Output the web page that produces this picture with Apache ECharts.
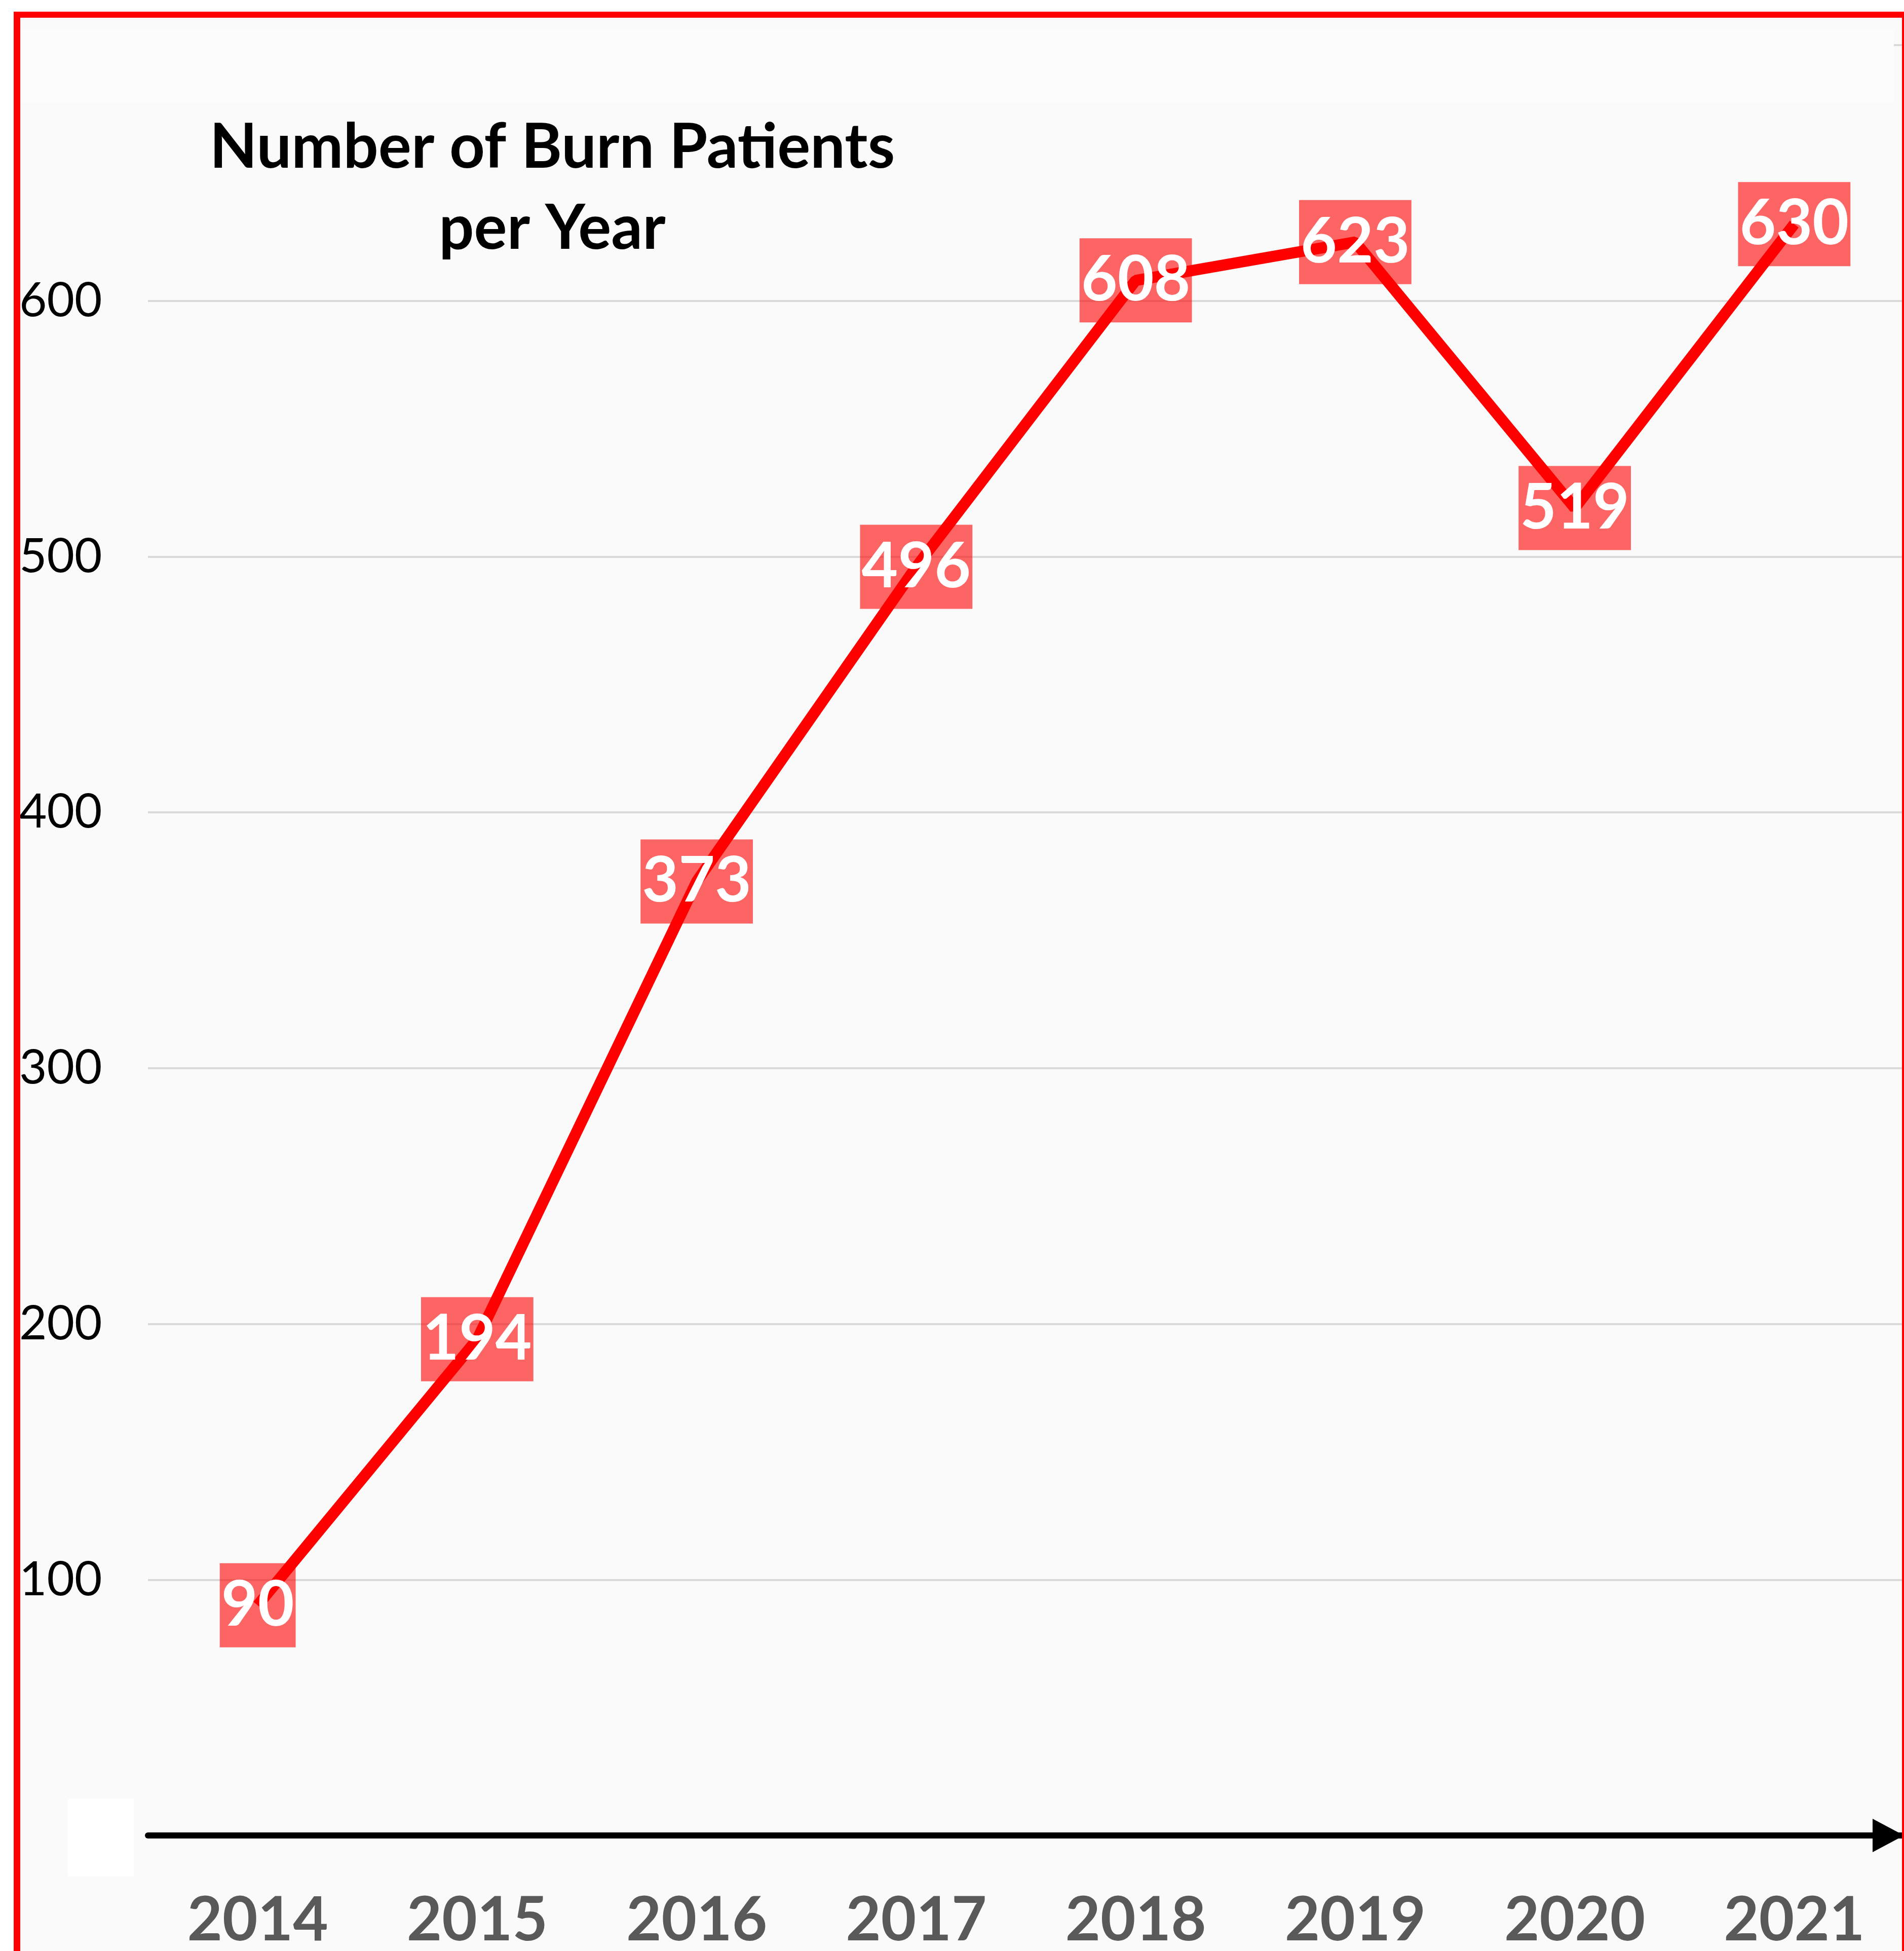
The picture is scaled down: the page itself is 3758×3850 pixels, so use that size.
<!DOCTYPE html>
<html>
<head>
    <meta charset="utf-8">
    <title>Number of Burn Patients per Year</title>
    <script src="https://cdn.jsdelivr.net/npm/echarts@6/dist/echarts.min.js"></script>
    <style>
        html, body { margin: 0; padding: 0; background: #fff; }
        #chart1 { width: 3758px; height: 3850px; }
    </style>
</head>
<body>
<div id="chart1"></div>
<script type="text/javascript">
    // data
    var years = ['2014', '2015', '2016', '2017', '2018', '2019', '2020', '2021'];
    var patients = [90, 194, 373, 496, 608, 623, 519, 630];
    var yTicks = [100, 200, 300, 400, 500, 600];

    var myChart = echarts.init(document.getElementById('chart1'));

    var option = {
        animation: false,
        backgroundColor: '#fafafa',
        grid: { left: 292, right: 0, top: 89, bottom: 228 },
        xAxis: {
            type: 'category',
            data: years,
            axisTick: { show: false },
            axisLine: {
                show: true,
                symbol: ['none', 'triangle'],
                symbolSize: [66, 62],
                symbolOffset: [0, -31],
                lineStyle: { color: '#000', width: 12 }
            },
            axisLabel: {
                color: '#595959',
                fontFamily: 'Lato',
                fontWeight: 'bold',
                fontSize: 120,
                margin: 108
            }
        },
        yAxis: {
            type: 'value',
            min: 0,
            max: 700,
            interval: 100,
            axisLine: { show: false },
            axisTick: { show: false },
            splitLine: { lineStyle: { color: '#d9d9d9', width: 4 } },
            axisLabel: {
                color: '#000',
                fontFamily: 'Lato',
                fontSize: 94,
                align: 'left',
                margin: 254,
                formatter: function (v) {
                    return yTicks.indexOf(v) >= 0 ? String(v) : '';
                }
            }
        },
        series: [{
            name: 'Burn patients',
            type: 'line',
            data: patients,
            symbol: 'circle',
            symbolSize: 1,
            itemStyle: { color: '#ff0000' },
            lineStyle: { color: '#ff0000', width: 22 },
            label: {
                show: true,
                position: 'inside',
                color: '#fff',
                fontFamily: 'Lato',
                fontWeight: 'bold',
                fontSize: 124,
                lineHeight: 122,
                backgroundColor: 'rgba(255,0,0,0.6)',
                padding: [22, 3]
            }
        }],
        graphic: [
            // white margins outside the red frame
            { type: 'rect', z: 100, shape: { x: 0, y: 0, width: 3758, height: 23 }, style: { fill: '#fff' } },
            { type: 'rect', z: 100, shape: { x: 0, y: 0, width: 27, height: 3850 }, style: { fill: '#fff' } },
            // slightly lighter band over the top gridline
            { type: 'rect', z: 50, shape: { x: 40, y: 58, width: 3698, height: 145 }, style: { fill: '#fcfcfc' } },
            // white patch over the 0 corner
            { type: 'rect', z: 50, shape: { x: 134, y: 3550, width: 130, height: 153 }, style: { fill: '#fff' } },
            // red frame
            { type: 'rect', z: 101, shape: { x: 27, y: 23, width: 3731, height: 12 }, style: { fill: '#ff0000' } },
            { type: 'rect', z: 101, shape: { x: 27, y: 23, width: 13, height: 3827 }, style: { fill: '#ff0000' } },
            { type: 'rect', z: 101, shape: { x: 3754, y: 23, width: 4, height: 3827 }, style: { fill: '#ff0000' } },
            // title
            {
                type: 'text', z: 60, x: 1090, y: 212,
                style: {
                    text: 'Number of Burn Patients\nper Year',
                    fill: '#000',
                    font: 'bold 122px Lato',
                    lineHeight: 160,
                    textAlign: 'center'
                }
            }
        ]
    };
    myChart.setOption(option);
</script>
</body>
</html>
